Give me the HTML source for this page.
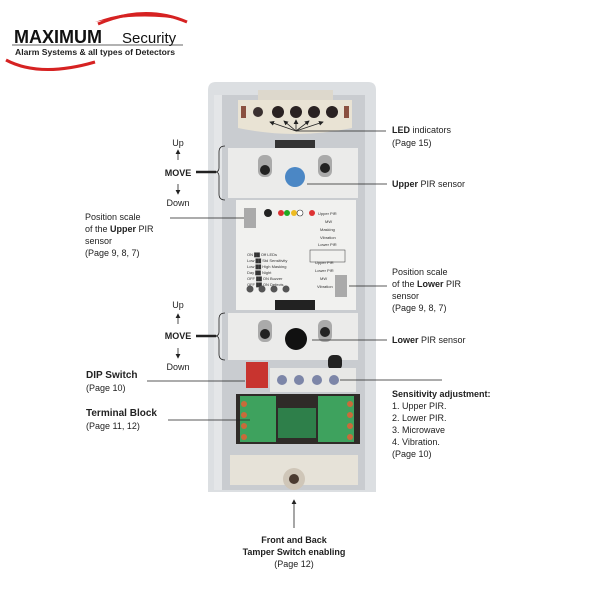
<!DOCTYPE html>
<html><head><meta charset="utf-8"><style>
html,body{margin:0;padding:0;background:#fff;}
svg{display:block;font-family:"Liberation Sans",Arial,sans-serif;}
</style></head><body>
<svg width="600" height="600" viewBox="0 0 600 600" xmlns="http://www.w3.org/2000/svg">
<defs>
<marker id="ah" markerWidth="6" markerHeight="6" refX="5" refY="3" orient="auto"><path d="M0,0 L6,3 L0,6 z" fill="#222"/></marker>
</defs>
<!-- logo -->
<path d="M95,22 Q140,5 185,20 Q140,12 95,22 Z" fill="#d62222"/>
<path d="M98,24 Q145,4 187,22" stroke="#d62222" stroke-width="3" fill="none"/>
<text x="14" y="43" font-size="18" font-weight="bold" fill="#111">MAXIMUM</text>
<text x="122" y="43" font-size="15" fill="#111">Security</text>
<line x1="12" y1="45" x2="183" y2="45" stroke="#333" stroke-width="0.8"/>
<text x="15" y="55" font-size="8.6" font-weight="bold" fill="#222">Alarm Systems &amp; all types of Detectors</text>
<path d="M6,60 Q40,78 95,62" stroke="#d62222" stroke-width="3" fill="none"/>

<!-- housing -->
<path d="M208,90 Q208,82 216,82 L368,82 Q376,82 376,90 L376,492 L208,492 Z" fill="#dcdfe2"/>
<rect x="220" y="95" width="145" height="395" fill="#c9ccd0"/>
<rect x="214" y="95" width="8" height="395" fill="#e4e6e8"/>
<!-- LED top piece -->
<path d="M238,100 L352,100 L352,128 Q295,140 238,128 Z" fill="#e9e3d4"/>
<rect x="258" y="90" width="75" height="10" fill="#ddd8cc"/>
<circle cx="258" cy="112" r="5" fill="#3a3030"/>
<circle cx="278" cy="112" r="6" fill="#2a2222"/>
<circle cx="296" cy="112" r="6" fill="#2a2222"/>
<circle cx="314" cy="112" r="6" fill="#2a2222"/>
<circle cx="332" cy="112" r="6" fill="#2a2222"/>
<rect x="241" y="106" width="5" height="12" fill="#8a5040"/>
<rect x="344" y="106" width="5" height="12" fill="#8a5040"/>
<g stroke="#222" stroke-width="0.8" marker-end="url(#ah)">
<line x1="296" y1="131" x2="270" y2="122"/><line x1="296" y1="131" x2="284" y2="121"/><line x1="296" y1="131" x2="296" y2="120"/><line x1="296" y1="131" x2="309" y2="121"/><line x1="296" y1="131" x2="323" y2="122"/></g>
<line x1="296" y1="131" x2="386" y2="131" stroke="#222" stroke-width="0.8"/>
<rect x="275" y="140" width="40" height="8" fill="#333"/>
<!-- upper PIR panel -->
<rect x="228" y="148" width="130" height="50" fill="#ebebea"/>
<rect x="258" y="155" width="14" height="22" rx="6" fill="#aaa"/><circle cx="265" cy="170" r="5" fill="#222"/>
<rect x="318" y="155" width="14" height="22" rx="6" fill="#aaa"/><circle cx="325" cy="168" r="5" fill="#222"/>
<circle cx="295" cy="177" r="10" fill="#4b87c5"/>
<line x1="307" y1="184" x2="387" y2="184" stroke="#222" stroke-width="0.8"/>
<!-- PCB -->
<rect x="236" y="200" width="120" height="110" fill="#f1f1ef"/>
<rect x="244" y="208" width="12" height="20" fill="#aaa"/>
<circle cx="268" cy="213" r="4" fill="#222"/>
<circle cx="281" cy="213" r="3" fill="#d33"/><circle cx="287" cy="213" r="3" fill="#2a2"/><circle cx="294" cy="213" r="3" fill="#eb2"/><circle cx="300" cy="213" r="3" fill="#fff" stroke="#333" stroke-width=".6"/><circle cx="312" cy="213" r="3" fill="#d33"/>
<g font-size="4" fill="#333"><text x="318" y="215">Upper PIR</text><text x="325" y="223">MW</text><text x="320" y="231">Masking</text><text x="320" y="239">Vibration</text><text x="318" y="246">Lower PIR</text>
<text x="247" y="256">ON ██ Off LEDs</text><text x="247" y="262">Low ██ Std Sensitivity</text><text x="247" y="268">Low ██ High Masking</text><text x="247" y="274">Day ██ Night</text><text x="247" y="280">OFF ██ ON Buzzer</text><text x="247" y="286">OFF ██ ON Defects</text>
<text x="315" y="264">Upper PIR</text><text x="315" y="272">Lower PIR</text><text x="320" y="280">MW</text><text x="317" y="288">Vibration</text></g>
<rect x="310" y="250" width="35" height="12" fill="none" stroke="#333" stroke-width=".5"/>
<circle cx="250" cy="289" r="3.5" fill="#555"/><circle cx="262" cy="289" r="3.5" fill="#555"/><circle cx="274" cy="289" r="3.5" fill="#555"/><circle cx="286" cy="289" r="3.5" fill="#555"/>
<rect x="335" y="275" width="12" height="22" fill="#aaa"/>
<rect x="275" y="300" width="40" height="10" fill="#222"/>
<line x1="349" y1="286" x2="387" y2="286" stroke="#222" stroke-width="0.8" />
<!-- lower PIR panel -->
<rect x="228" y="313" width="130" height="47" fill="#ebebea"/>
<rect x="258" y="320" width="14" height="22" rx="6" fill="#aaa"/><circle cx="265" cy="334" r="5" fill="#222"/>
<rect x="318" y="320" width="14" height="22" rx="6" fill="#aaa"/><circle cx="325" cy="332" r="5" fill="#222"/>
<circle cx="296" cy="339" r="11" fill="#111"/>
<line x1="312" y1="340" x2="387" y2="340" stroke="#222" stroke-width="0.8"/>
<rect x="328" y="355" width="14" height="15" rx="5" fill="#222"/>
<!-- DIP / pots -->
<rect x="246" y="362" width="22" height="26" fill="#c8342f"/>
<rect x="270" y="368" width="86" height="24" fill="#e8e8e6"/>
<circle cx="282" cy="380" r="5" fill="#7d86a8"/><circle cx="299" cy="380" r="5" fill="#7d86a8"/><circle cx="317" cy="380" r="5" fill="#7d86a8"/><circle cx="334" cy="380" r="5" fill="#7d86a8"/>
<line x1="340" y1="380" x2="442" y2="380" stroke="#222" stroke-width="0.8"/>
<line x1="147" y1="381" x2="245" y2="381" stroke="#222" stroke-width="0.8"/>
<!-- terminal blocks -->
<rect x="236" y="394" width="124" height="50" fill="#2f2b28"/>
<rect x="240" y="396" width="36" height="46" fill="#3ea25e"/>
<rect x="318" y="396" width="36" height="46" fill="#3ea25e"/>
<rect x="278" y="408" width="38" height="30" fill="#2e7f4a"/>
<g fill="#c96b3a"><circle cx="244" cy="404" r="3"/><circle cx="244" cy="415" r="3"/><circle cx="244" cy="426" r="3"/><circle cx="244" cy="437" r="3"/><circle cx="350" cy="404" r="3"/><circle cx="350" cy="415" r="3"/><circle cx="350" cy="426" r="3"/><circle cx="350" cy="437" r="3"/></g>
<line x1="168" y1="420" x2="250" y2="420" stroke="#222" stroke-width="0.8"/>
<!-- tamper -->
<rect x="230" y="455" width="128" height="30" fill="#e6e2d8"/>
<circle cx="294" cy="479" r="11" fill="#cfc6b8"/><circle cx="294" cy="479" r="5" fill="#4a3a30"/>
<line x1="294" y1="528" x2="294" y2="500" stroke="#222" stroke-width="0.8" marker-end="url(#ah)"/>

<!-- brackets -->
<g stroke="#222" stroke-width="0.8" fill="none">
<path d="M225,146 Q219,146 219,152 L219,168 Q219,172 215,172 Q219,172 219,176 L219,194 Q219,200 225,200"/>
<path d="M225,313 Q219,313 219,319 L219,332 Q219,336 215,336 Q219,336 219,340 L219,354 Q219,360 225,360"/>
</g>
<line x1="196" y1="172" x2="216" y2="172" stroke="#222" stroke-width="2.5"/>
<line x1="196" y1="336" x2="216" y2="336" stroke="#222" stroke-width="2.5"/>
<line x1="170" y1="218" x2="244" y2="218" stroke="#222" stroke-width="0.8"/>
<g stroke="#222" stroke-width="0.8" marker-end="url(#ah)">
<line x1="178" y1="160" x2="178" y2="150"/><line x1="178" y1="184" x2="178" y2="194"/>
<line x1="178" y1="324" x2="178" y2="314"/><line x1="178" y1="348" x2="178" y2="358"/></g>

<!-- labels -->
<g font-size="9" fill="#222">
<text x="178" y="146" text-anchor="middle">Up</text>
<text x="178" y="176" text-anchor="middle" font-weight="bold">MOVE</text>
<text x="178" y="206" text-anchor="middle">Down</text>
<text x="178" y="308" text-anchor="middle">Up</text>
<text x="178" y="339" text-anchor="middle" font-weight="bold">MOVE</text>
<text x="178" y="370" text-anchor="middle">Down</text>
<text x="85" y="220">Position scale</text>
<text x="85" y="232">of the <tspan font-weight="bold">Upper</tspan> PIR</text>
<text x="85" y="244">sensor</text>
<text x="85" y="256">(Page 9, 8, 7)</text>
<text x="86" y="378" font-size="10" font-weight="bold">DIP Switch</text>
<text x="86" y="391">(Page 10)</text>
<text x="86" y="416" font-size="10" font-weight="bold">Terminal Block</text>
<text x="86" y="429">(Page 11, 12)</text>
<text x="392" y="133"><tspan font-weight="bold">LED</tspan> indicators</text>
<text x="392" y="146">(Page 15)</text>
<text x="392" y="187"><tspan font-weight="bold">Upper</tspan> PIR sensor</text>
<text x="392" y="275">Position scale</text>
<text x="392" y="287">of the <tspan font-weight="bold">Lower</tspan> PIR</text>
<text x="392" y="299">sensor</text>
<text x="392" y="311">(Page 9, 8, 7)</text>
<text x="392" y="343"><tspan font-weight="bold">Lower</tspan> PIR sensor</text>
<text x="392" y="397" font-weight="bold">Sensitivity adjustment:</text>
<text x="392" y="409">1. Upper PIR.</text>
<text x="392" y="421">2. Lower PIR.</text>
<text x="392" y="433">3. Microwave</text>
<text x="392" y="445">4. Vibration.</text>
<text x="392" y="457">(Page 10)</text>
<text x="294" y="543" text-anchor="middle" font-weight="bold">Front and Back</text>
<text x="294" y="555" text-anchor="middle" font-weight="bold">Tamper Switch enabling</text>
<text x="294" y="567" text-anchor="middle">(Page 12)</text>
</g>
</svg>
</body></html>
